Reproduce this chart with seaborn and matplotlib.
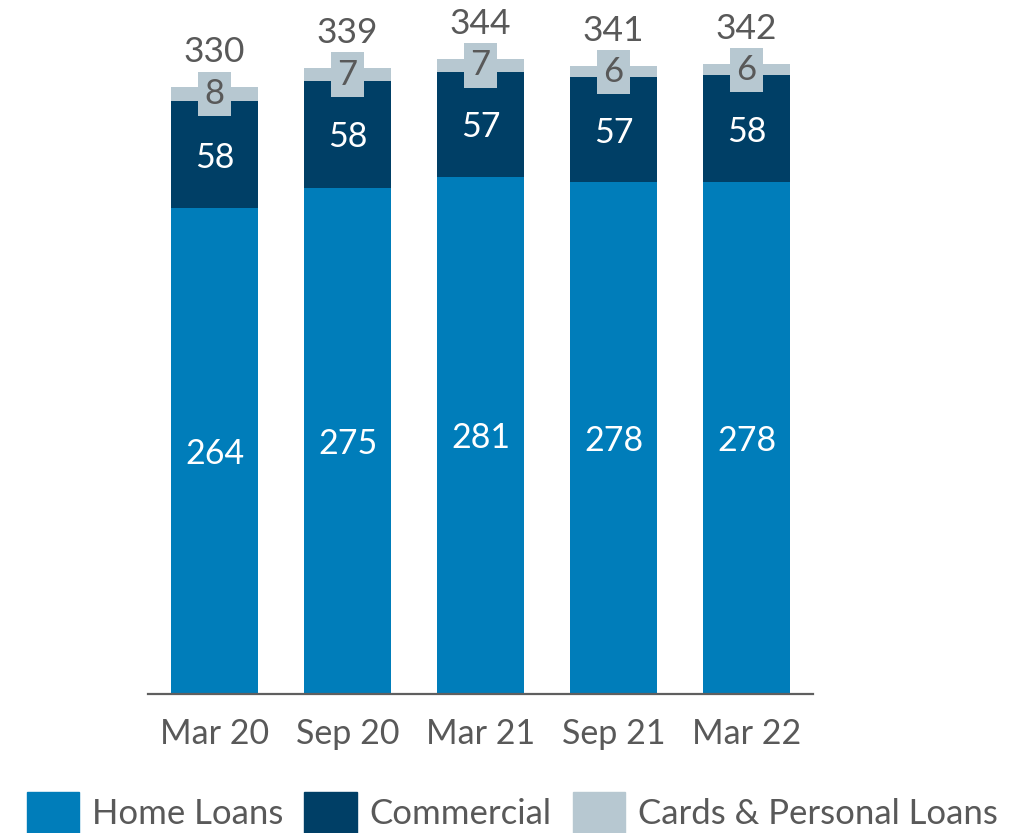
import matplotlib
matplotlib.use("Agg")
import matplotlib.pyplot as plt
import seaborn as sns
import pandas as pd
from matplotlib.patches import Patch

# data
periods = ["Mar 20", "Sep 20", "Mar 21", "Sep 21", "Mar 22"]
home_loans = [264, 275, 281, 278, 278]
commercial = [58, 58, 57, 57, 58]
cards_personal = [8, 7, 7, 6, 6]
totals = [330, 339, 344, 341, 342]

c_home = "#007DBA"
c_comm = "#003F66"
c_cards = "#B7C8D1"
c_text = "#595959"

df = pd.DataFrame({"period": periods, "home": home_loans,
                   "commercial": commercial, "cards": cards_personal})
df["lvl2"] = df["home"] + df["commercial"]
df["lvl3"] = df["lvl2"] + df["cards"]

sns.set_style("white")
plt.rcParams["font.family"] = ["Lato", "DejaVu Sans"]

fig = plt.figure(figsize=(10.15, 8.33), dpi=100)
ax = fig.add_axes([148 / 1015, 1 - 694 / 833, 665 / 1015, 694 / 833])

# stacked bars: draw cumulative heights back to front
sns.barplot(data=df, x="period", y="lvl3", color=c_cards, saturation=1, width=0.66, ax=ax, linewidth=0)
sns.barplot(data=df, x="period", y="lvl2", color=c_comm, saturation=1, width=0.66, ax=ax, linewidth=0)
sns.barplot(data=df, x="period", y="home", color=c_home, saturation=1, width=0.66, ax=ax, linewidth=0)

ax.set_xlim(-0.5, 4.5)
ax.set_ylim(0, 377)
ax.set_xlabel("")
ax.set_ylabel("")
ax.set_yticks([])
for s in ["top", "left", "right"]:
    ax.spines[s].set_visible(False)
ax.spines["bottom"].set_color("#5f5f5f")
ax.spines["bottom"].set_linewidth(1.6)
ax.tick_params(axis="x", length=0, pad=17, labelsize=24.5, labelcolor=c_text)

for i in range(len(periods)):
    h, c, k, t = home_loans[i], commercial[i], cards_personal[i], totals[i]
    ax.text(i, h / 2, str(h), ha="center", va="center_baseline", color="white", fontsize=24.5)
    ax.text(i, h + c / 2, str(c), ha="center", va="center_baseline", color="white", fontsize=24.5)
    ax.text(i, h + c + k / 2, str(k), ha="center", va="center", color=c_text, fontsize=25,
            bbox=dict(boxstyle="square,pad=0.18", fc=c_cards, ec="none"))
    ax.annotate(str(t), (i, h + c + k), xytext=(0, 18), textcoords="offset points",
                ha="center", va="baseline", color=c_text, fontsize=25.5)

handles = [Patch(color=c_home, label="Home Loans"),
           Patch(color=c_comm, label="Commercial"),
           Patch(color=c_cards, label="Cards & Personal Loans")]
fig.legend(handles=handles, loc="upper left", bbox_to_anchor=(27 / 1015, 1 - 792 / 833),
           ncol=3, frameon=False, fontsize=25, labelcolor=c_text, borderpad=0,
           borderaxespad=0, handlelength=1.5, handleheight=1.45, handletextpad=0.38,
           columnspacing=0.6)

fig.savefig("out.png", dpi=100)
